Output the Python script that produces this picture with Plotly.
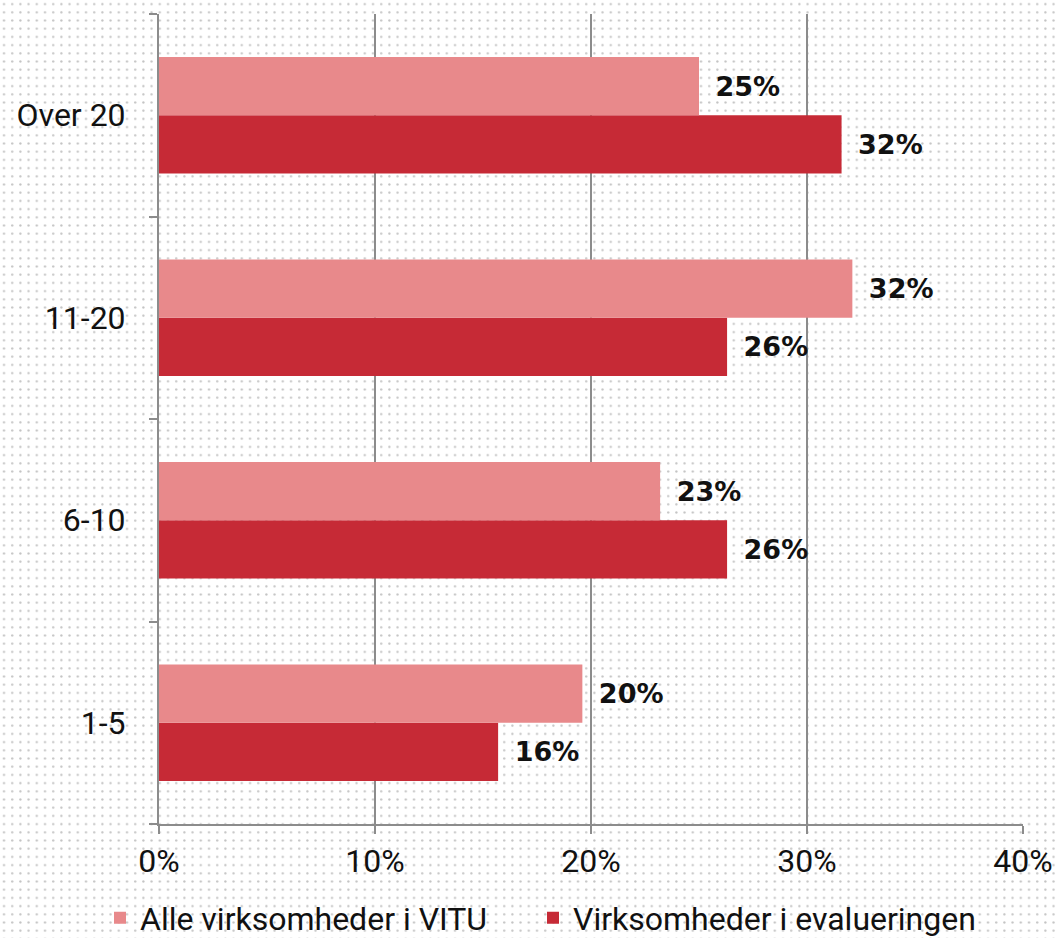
import plotly.graph_objects as go
import urllib.parse

categories = ["1-5", "6-10", "11-20", "Over 20"]
alle_vitu = [19.6, 23.2, 32.1, 25.0]
evaluering = [15.7, 26.3, 26.3, 31.6]
alle_labels = ["20%", "23%", "32%", "25%"]
eval_labels = ["16%", "26%", "26%", "32%"]
x_ticks = [0, 10, 20, 30, 40]
x_ticklabels = ["0%", "10%", "20%", "30%", "40%"]

W, H = 1060, 938
ML, MR, MT, MB = 159, 37, 14, 114
PW, PH = W - ML - MR, H - MT - MB

light = "#e8898b"
dark = "#c62a36"
font_fam = "Roboto, 'DejaVu Sans', sans-serif"
label_font = dict(family="'DejaVu Sans', sans-serif", size=27, color="#111", weight="bold")

fig = go.Figure()
fig.add_trace(go.Bar(
    y=categories, x=evaluering, orientation="h", name="Virksomheder i evalueringen",
    marker=dict(color=dark, line=dict(width=0)), text=eval_labels,
    texttemplate="\u2002%{text}", textposition="outside",
    textfont=label_font, cliponaxis=False, legend="legend2",
))
fig.add_trace(go.Bar(
    y=categories, x=alle_vitu, orientation="h", name="Alle virksomheder i VITU",
    marker=dict(color=light, line=dict(width=0)), text=alle_labels,
    texttemplate="\u2002%{text}", textposition="outside",
    textfont=label_font, cliponaxis=False, legend="legend",
))

svg = (
    "<svg xmlns='http://www.w3.org/2000/svg' width='1060' height='938'>"
    "<defs><pattern id='p' width='8.2' height='8.2' patternUnits='userSpaceOnUse'>"
    "<circle cx='4' cy='4' r='1.15' fill='#c4c4c4'/></pattern></defs>"
    "<rect width='1060' height='938' fill='white'/>"
    "<rect width='1060' height='938' fill='url(#p)'/></svg>"
)
uri = "data:image/svg+xml;charset=utf-8," + urllib.parse.quote(svg)

legend_common = dict(orientation="h", xref="container", yref="container",
                     xanchor="left", y=(H - 918) / H, yanchor="middle",
                     font=dict(size=32, family=font_fam), itemwidth=30,
                     bgcolor="rgba(0,0,0,0)")

fig.update_layout(
    width=W, height=H,
    margin=dict(l=ML, r=MR, t=MT, b=MB, autoexpand=False),
    paper_bgcolor="white", plot_bgcolor="rgba(0,0,0,0)",
    barmode="group", bargap=0.425, bargroupgap=0,
    font=dict(family=font_fam, size=32, color="#111"),
    images=[dict(source=uri, xref="paper", yref="paper",
                 x=-ML / PW, y=1 + MT / PH, sizex=W / PW, sizey=H / PH,
                 xanchor="left", yanchor="top", sizing="stretch", layer="below")],
    showlegend=True,
    legend=dict(x=100 / W, **legend_common),
    legend2=dict(x=533 / W, **legend_common),
)
fig.update_xaxes(
    range=[0, 40], tickvals=x_ticks, ticktext=x_ticklabels,
    showgrid=True, gridcolor="#8c8c8c", gridwidth=1.5,
    showline=True, linecolor="#8c8c8c", linewidth=2,
    ticks="outside", ticklen=8, tickcolor="#8c8c8c", tickwidth=2,
    tickfont=dict(size=32), zeroline=False, fixedrange=True,
)
fig.update_yaxes(
    categoryorder="array", categoryarray=categories,
    showline=True, linecolor="#8c8c8c", linewidth=2,
    ticks="outside", ticklen=8, tickcolor="#8c8c8c", tickwidth=2,
    tickson="boundaries", showgrid=False, tickfont=dict(size=32),
    ticklabelstandoff=25, fixedrange=True,
)

fig.write_html("out.html", config={"displayModeBar": False},
               post_script="document.body.style.margin='0';")
